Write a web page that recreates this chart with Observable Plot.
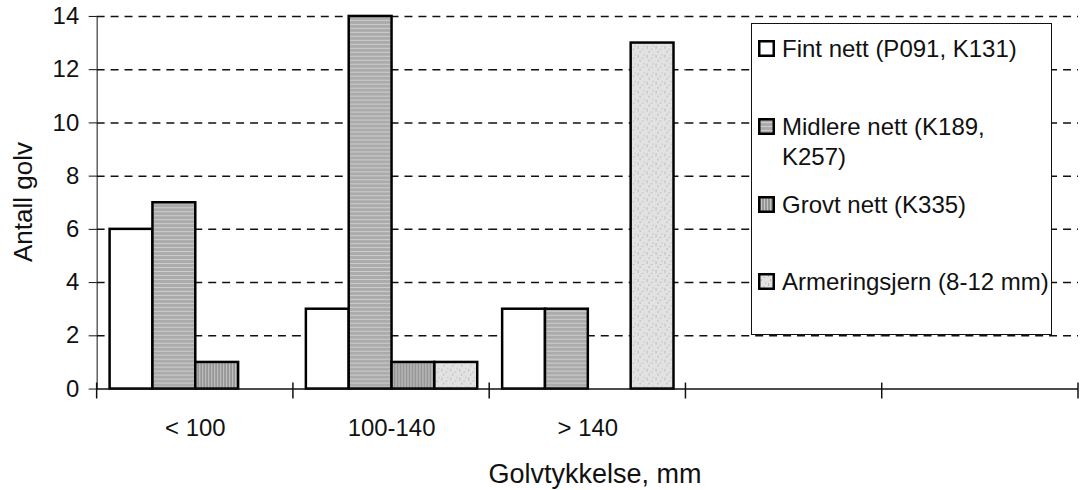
<!DOCTYPE html>
<html><head><meta charset="utf-8">
<script src="https://cdn.jsdelivr.net/npm/d3@7"></script>
<script src="https://cdn.jsdelivr.net/npm/@observablehq/plot@0.6"></script>
<style>
html,body{margin:0;padding:0;background:#fff;overflow:hidden;}
#wrap{position:relative;width:1080px;height:490px;overflow:hidden;font-family:"Liberation Sans",Arial,Helvetica,sans-serif;color:#111;}
.ttl{position:absolute;white-space:nowrap;transform:translate(-50%,-50%);line-height:1;}
#legend{position:absolute;left:751px;top:23px;width:301px;height:312px;box-sizing:border-box;border:1.5px solid #111;background:#fff;}
.ent{position:absolute;left:6px;font-size:24px;line-height:30px;white-space:nowrap;}
.ent svg{position:absolute;left:0;top:6px;}
.ent span{position:absolute;left:24px;top:0;}
</style></head><body>
<svg width="0" height="0" style="position:absolute"><defs>
<pattern id="pMid" patternUnits="userSpaceOnUse" width="4" height="4">
<rect width="4" height="4" fill="#ababab"/><rect y="0" width="4" height="1" fill="#cdcdcd"/></pattern>
<pattern id="pGrov" patternUnits="userSpaceOnUse" width="3" height="3">
<rect width="3" height="3" fill="#969696"/><rect x="0" width="1" height="3" fill="#c6c6c6"/></pattern>
<pattern id="pArm" patternUnits="userSpaceOnUse" width="9" height="9">
<rect width="9" height="9" fill="#e2e2e2"/><rect x="1" y="1" width="1" height="3" fill="#bcbcbc"/><rect x="5" y="4" width="2" height="1" fill="#c2c2c2"/><rect x="3" y="6" width="1" height="2" fill="#b8b8b8"/><rect x="7" y="0" width="1" height="2" fill="#c8c8c8"/></pattern>
</defs></svg>
<div id="wrap"></div>
<script>
const categories = ["< 100", "100-140", "> 140", "", " "];
const seriesNames = ["Fint nett (P091, K131)", "Midlere nett (K189, K257)", "Grovt nett (K335)", "Armeringsjern (8-12 mm)"];
const fint = [6, 3, 3, 0, 0];
const midlere = [7, 14, 3, 0, 0];
const grovt = [1, 1, 0, 0, 0];
const armering = [0, 1, 13, 0, 0];
const yTicks = [0, 2, 4, 6, 8, 10, 12, 14];
const yTitle = "Antall golv";
const xTitle = "Golvtykkelse, mm";

const seriesValues = [fint, midlere, grovt, armering];
const fills = ["#ffffff", "url(#pMid)", "url(#pGrov)", "url(#pArm)"];
const rows = categories.flatMap((c, i) => seriesNames.map((s, j) => ({cat: c, series: s, value: seriesValues[j][i]})));

const plot = Plot.plot({
  width: 1084, height: 490,
  marginTop: 16, marginBottom: 100, marginLeft: 95, marginRight: 0,
  style: {fontFamily: '"Liberation Sans", Arial, Helvetica, sans-serif', fontSize: "24px", color: "#111", background: "transparent", overflow: "visible"},
  fx: {domain: categories, padding: 0, label: null, axis: "bottom", tickSize: 0, tickPadding: 30},
  x: {domain: seriesNames, paddingInner: 0, paddingOuter: 0.25, axis: null},
  y: {domain: [0, 14], ticks: yTicks, tickSize: 8, tickPadding: 10, label: null, line: true},
  color: {domain: seriesNames, range: fills},
  marks: [
    Plot.ruleY(yTicks.filter(v => v > 0), {stroke: "#111", strokeWidth: 1.5, strokeDasharray: "8,6"}),
    Plot.barY(rows, {fx: "cat", x: "series", y: "value", fill: "series", stroke: "#000", strokeWidth: d => d.value > 0 ? 2.5 : 0, inset: 0}),
    Plot.ruleY([0], {stroke: "#111", strokeWidth: 1.5})
  ]
});

const wrap = document.getElementById("wrap");
wrap.appendChild(plot);

// category boundary ticks on the x axis
const fxs = plot.scale("fx"), ys = plot.scale("y");
const y0 = ys.apply(0);
const bounds = categories.map(c => fxs.apply(c)).concat([fxs.apply(categories[categories.length - 1]) + fxs.bandwidth]);
d3.select(plot).append("g").selectAll("line").data(bounds).join("line")
  .attr("x1", d => d).attr("x2", d => d).attr("y1", y0 - 6).attr("y2", y0 + 10)
  .attr("stroke", "#111").attr("stroke-width", 1.5);

// axis titles
const yt = document.createElement("div");
yt.className = "ttl"; yt.textContent = yTitle;
yt.style.cssText = "left:23px;top:202px;font-size:26px;transform:translate(-50%,-50%) rotate(-90deg);";
wrap.appendChild(yt);
const xt = document.createElement("div");
xt.className = "ttl"; xt.textContent = xTitle;
xt.style.cssText = "left:595px;top:474px;font-size:27px;";
wrap.appendChild(xt);

// legend
const lg = document.createElement("div");
lg.id = "legend";
const tops = [10, 88, 166, 243];
const labels = ["Fint nett (P091, K131)", "Midlere nett (K189,<br>K257)", "Grovt nett (K335)", "Armeringsjern (8-12 mm)"];
seriesNames.forEach((s, j) => {
  const e = document.createElement("div");
  e.className = "ent"; e.style.top = tops[j] + "px";
  e.innerHTML = `<svg width="17" height="17"><rect x="1.25" y="1.25" width="14.5" height="14.5" fill="${fills[j]}" stroke="#000" stroke-width="2.5"/></svg><span>${labels[j]}</span>`;
  lg.appendChild(e);
});
wrap.appendChild(lg);
</script>
</body></html>
